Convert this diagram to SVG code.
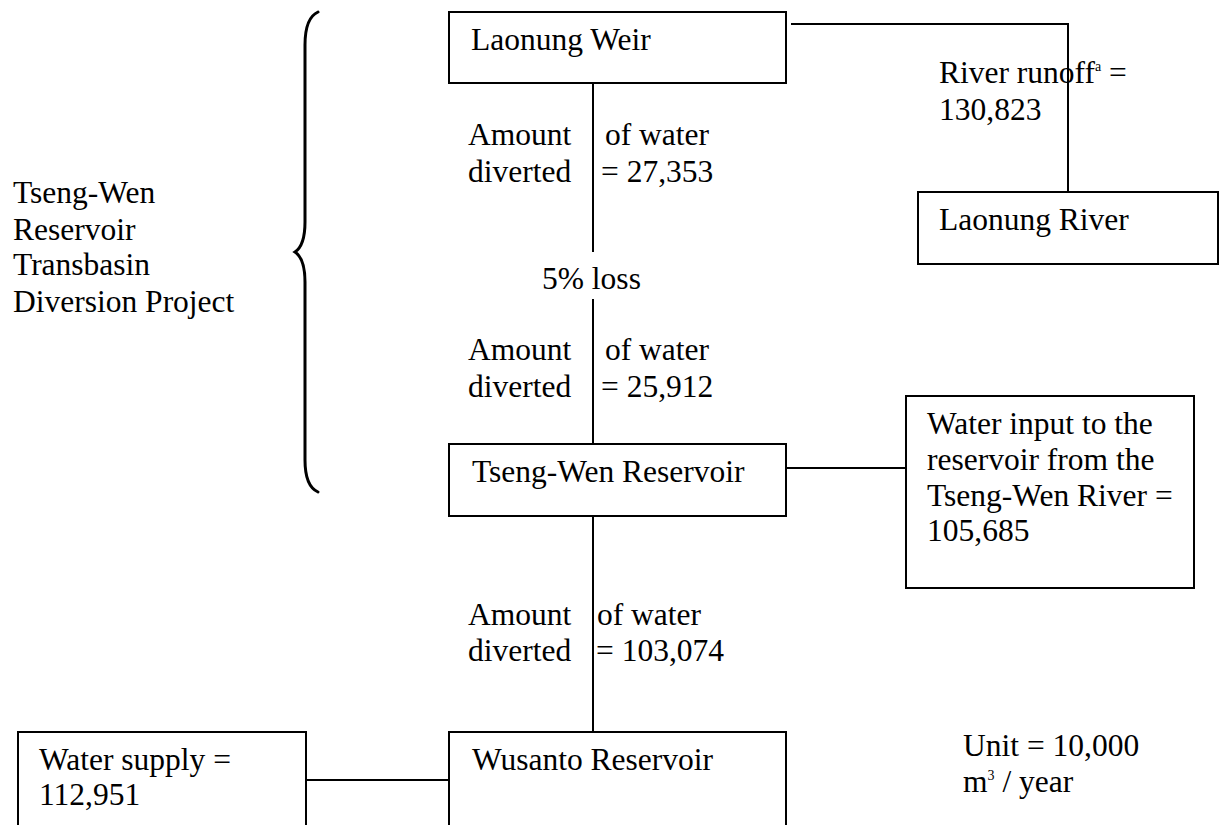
<svg xmlns="http://www.w3.org/2000/svg" width="1221" height="825" viewBox="0 0 1221 825">
<style>
.box{fill:#fff;stroke:#000;stroke-width:2}
.ln{fill:none;stroke:#000;stroke-width:2}
text{font-family:"Liberation Serif","Times New Roman",serif;font-size:31.5px;fill:#000}
.sup{font-size:14px}
</style>
<rect width="1221" height="825" fill="#fff"/>
<g id="connectors">
<line class="ln" x1="593" y1="83" x2="593" y2="252"/>
<line class="ln" x1="593" y1="299" x2="593" y2="444"/>
<polyline class="ln" points="791,24 1068,24 1068,192"/>
<line class="ln" x1="786" y1="468" x2="906" y2="468"/>
<line class="ln" x1="593" y1="516" x2="593" y2="732"/>
<line class="ln" x1="306" y1="780" x2="449" y2="780"/>
</g>
<g id="brace">
<path d="M318,12 C309,16 305,28 305,45 L305,222 C305,240 301,248 295,252 C301,256 305,264 305,282 L305,460 C305,477 309,488 318,492" fill="none" stroke="#000" stroke-width="3" stroke-linecap="round"/>
</g>
<g id="project-label">
<text x="13" y="203">Tseng-Wen</text>
<text x="13" y="240">Reservoir</text>
<text x="13" y="275">Transbasin</text>
<text x="13" y="312">Diversion Project</text>
</g>
<g id="laonung-weir">
<rect class="box" x="449" y="12" width="337" height="71"/>
<text x="471" y="50">Laonung Weir</text>
</g>
<g id="laonung-river">
<rect class="box" x="918" y="192" width="300" height="72"/>
<text x="939" y="230">Laonung River</text>
</g>
<g id="runoff-label">
<text x="939" y="83">River runoff<tspan class="sup" dy="-12">a</tspan><tspan dy="12"> =</tspan></text>
<text x="939" y="120">130,823</text>
</g>
<g id="diverted-1">
<text x="468" y="145">Amount</text>
<text x="468" y="182">diverted</text>
<text x="605" y="145">of water</text>
<text x="601" y="182">= 27,353</text>
</g>
<g id="loss-label">
<text x="542" y="289">5% loss</text>
</g>
<g id="diverted-2">
<text x="468" y="360">Amount</text>
<text x="468" y="397">diverted</text>
<text x="605" y="360">of water</text>
<text x="601" y="397">= 25,912</text>
</g>
<g id="tseng-wen-reservoir">
<rect class="box" x="449" y="444" width="337" height="72"/>
<text x="472" y="482">Tseng-Wen Reservoir</text>
</g>
<g id="water-input">
<rect class="box" x="906" y="396" width="288" height="192"/>
<text x="927" y="434">Water input to the</text>
<text x="927" y="470">reservoir from the</text>
<text x="927" y="506">Tseng-Wen River =</text>
<text x="927" y="541">105,685</text>
</g>
<g id="diverted-3">
<text x="468" y="625">Amount</text>
<text x="468" y="661">diverted</text>
<text x="597" y="625">of water</text>
<text x="596" y="661">= 103,074</text>
</g>
<g id="wusanto-reservoir">
<rect class="box" x="449" y="732" width="337" height="110"/>
<text x="472" y="770">Wusanto Reservoir</text>
</g>
<g id="water-supply">
<rect class="box" x="18" y="732" width="288" height="110"/>
<text x="39" y="770">Water supply =</text>
<text x="39" y="805">112,951</text>
</g>
<g id="unit-label">
<text x="963" y="756">Unit = 10,000</text>
<text x="963" y="792">m<tspan class="sup" dy="-12">3</tspan><tspan dy="12"> / year</tspan></text>
</g>
</svg>
